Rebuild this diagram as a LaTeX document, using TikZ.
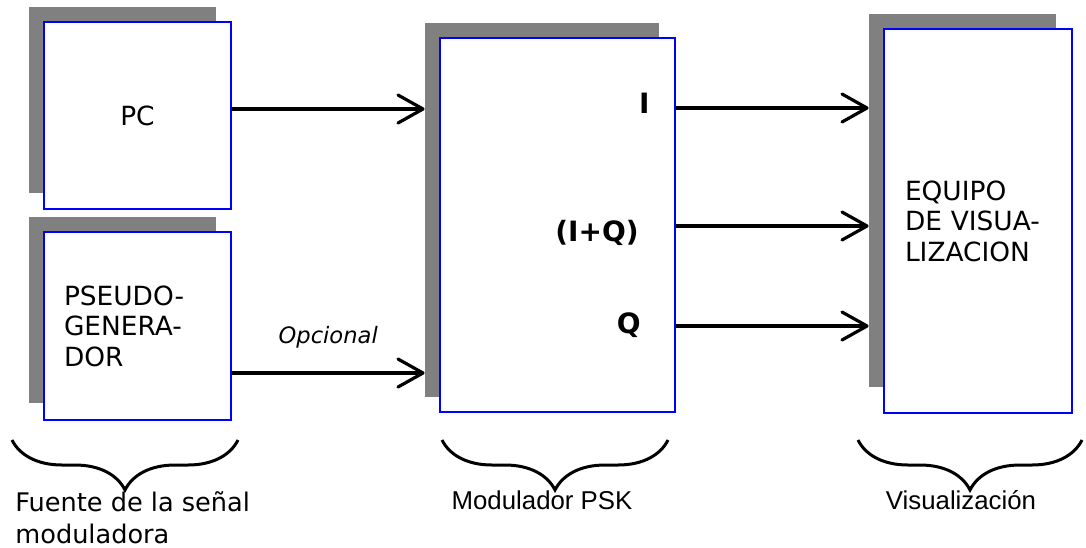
\documentclass[tikz,border=0pt]{standalone}
\usepackage{fontspec}
\setmainfont{DejaVu Sans}
\newfontfamily\arialfont{Liberation Sans}
\usepackage{tikz}
\usepackage{xcolor}
\usetikzlibrary{arrows.meta, positioning, decorations.pathreplacing}
\definecolor{cShadow}{RGB}{128,128,128}
\definecolor{cBorder}{RGB}{0,0,255}
\tikzset{
	blk/.style ={rectangle, draw=cBorder, line width=0.8pt, fill=white, inner xsep=10pt, inner ysep=0pt, font=\fontsize{13.2}{15.25}\selectfont},
	shd/.style ={rectangle, fill=cShadow, draw=none, inner sep=0pt},
	sig/.style ={-{Straight Barb[length=12.5pt, width=14pt, round]}, line width=1.6pt},
	lbl/.style ={font=\bfseries\fontsize{14}{16}\selectfont, inner sep=0pt},
	brc/.style ={decorate, decoration={brace, mirror, amplitude=25pt}, line width=1.5pt},
}
\begin{document}
\begin{tikzpicture}[x=0.5pt, y=-0.5pt]
	\useasboundingbox (0,0) rectangle (1086,547);
	% shadows
	\node[shd, minimum width=93.5pt, minimum height=93pt] (pcS) at (122.5,100) {};
	\node[shd, minimum width=93.5pt, minimum height=93pt] (genS) at (122.5,310) {};
	\node[shd, minimum width=117pt, minimum height=187pt] (modS) at (542,210) {};
	\node[shd, minimum width=93.5pt, minimum height=186.5pt] (eqS) at (962.5,200.5) {};
	% blocks
	\node[blk, minimum width=93.5pt, minimum height=93.5pt, text width=73.5pt, align=center] (pc) at (137.5,115.5) {PC};
	\node[blk, minimum width=93.5pt, minimum height=94pt, text width=73.5pt, align=left] (gen) at (137.5,326) {PSEUDO-\\GENERA-\\DOR};
	\node[blk, minimum width=117.5pt, minimum height=187pt] (mod) at (557.5,225) {};
	\node[blk, minimum width=94pt, minimum height=192pt, text width=73pt, align=left] (eq) at (978,221) {EQUIPO\\DE VISUA-\\LIZACION};
	% outputs of the modulator
	\node[lbl, anchor=east] (sI) at (650,103) {I};
	\node[lbl, anchor=east] (sIQ) at (639,233) {(I+Q)};
	\node[lbl, anchor=east] (sQ) at (641,325) {Q};
	% signals
	\coordinate (pcO) at ([yshift=3.25pt]pc.east);
	\coordinate (genO) at ([yshift=-23.5pt]gen.east);
	\coordinate (modI) at ([yshift=58.5pt]mod.east);
	\coordinate (modIQ) at ([yshift=-0.5pt]mod.east);
	\coordinate (modQ) at ([yshift=-50.5pt]mod.east);
	\draw[sig] (pcO) -- (pcO -| modS.west);
	\draw[sig] (genO) -- node[above=11.5pt, inner sep=0pt, font=\itshape\fontsize{11.3}{13}\selectfont] (opc) {Opcional} (genO -| modS.west);
	\draw[sig] (modI) -- (modI -| eqS.west);
	\draw[sig] (modIQ) -- (modIQ -| eqS.west);
	\draw[sig] (modQ) -- (modQ -| eqS.west);
	% braces
	\draw[brc] (12,440) -- (238,440);
	\draw[brc] (442,440) -- (668,440);
	\draw[brc] (858,440) -- (1082,440);
	\node[anchor=west, align=left, inner sep=0pt, font=\fontsize{12.8}{16}\selectfont] (srcT) at (15,518) {Fuente de la señal\\moduladora};
	\node[font=\arialfont\fontsize{12.9}{15}\selectfont] (modT) at (542,500) {Modulador PSK};
	\node[font=\arialfont\fontsize{12.9}{15}\selectfont] (eqT) at (961,500) {Visualización};
\end{tikzpicture}
\end{document}
